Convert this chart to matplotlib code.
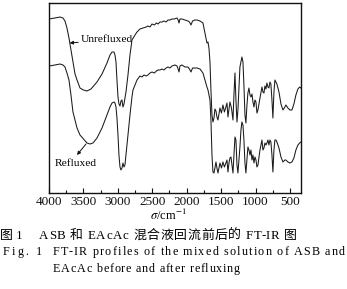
import numpy as np
import matplotlib
matplotlib.use('Agg')
import matplotlib.pyplot as plt
from matplotlib.font_manager import FontProperties

plt.rcParams['font.family'] = ['Liberation Serif', 'Noto Sans CJK SC']
plt.rcParams['mathtext.fontset'] = 'stix'

# 波数 / cm^-1 与透过率（任意单位，按图读数）
wn_unref = [4000, 3913, 3840, 3797, 3768, 3739, 3710, 3681, 3652, 3622, 3593, 3550, 3500, 3448,
            3390, 3303, 3230, 3158, 3114, 3085, 3056, 3042, 3027, 3013, 2998, 2984, 2969, 2955,
            2940, 2926, 2911, 2882, 2853, 2824, 2795, 2751, 2722, 2679, 2635, 2590, 2563, 2533,
            2504, 2470, 2440, 2417, 2388, 2359, 2330, 2300, 2272, 2243, 2214, 2180, 2141, 2125,
            2112, 2098, 2069, 2025, 1982, 1960, 1938, 1915, 1880, 1851, 1807, 1764, 1735, 1706,
            1691, 1677, 1662, 1648, 1633, 1619, 1604, 1590, 1575, 1561, 1546, 1517, 1495, 1474,
            1452, 1415, 1401, 1372, 1350, 1328, 1314, 1299, 1285, 1270, 1256, 1227, 1198, 1183,
            1169, 1154, 1140, 1125, 1111, 1096, 1081, 1067, 1052, 1038, 1023, 1009, 994, 980,
            965, 951, 936, 907, 893, 878, 864, 849, 835, 820, 806, 791, 777, 762, 748, 733, 719,
            704, 690, 660, 631, 602, 574, 559, 530, 501, 472, 443, 414, 385, 360, 341]
t_unref = [174, 175, 176, 175, 172, 165, 155, 143, 131, 119, 113, 105, 103, 102,
           104, 111, 119, 130, 138, 141, 141, 138, 131, 113, 96, 89, 87, 92,
           93, 86, 89, 101, 118, 138, 153, 158, 161, 164, 165, 166, 167, 166,
           169, 168, 170, 169, 171, 171, 172, 171, 173, 173, 174, 174, 175, 173,
           170, 174, 174, 173, 172, 171, 168, 172, 173, 173, 172, 170, 160, 150,
           151, 145, 131, 103, 78, 71, 75, 84, 82, 76, 73, 85, 80, 88,
           81, 90, 76, 91, 85, 73, 98, 120, 93, 71, 83, 126, 136, 131,
           108, 78, 70, 88, 100, 105, 98, 96, 99, 91, 86, 93, 91, 80,
           83, 89, 95, 106, 101, 100, 107, 104, 110, 106, 105, 111, 109, 93, 75, 101, 113,
           111, 109, 101, 89, 83, 86, 88, 85, 83, 83, 89, 98, 104, 106, 105]

wn_ref = [4000, 3913, 3840, 3797, 3768, 3739, 3710, 3681, 3652, 3622, 3593, 3550, 3500, 3448,
          3405, 3361, 3303, 3230, 3158, 3114, 3085, 3056, 3042, 3027, 3013, 2998, 2984, 2969,
          2955, 2940, 2926, 2911, 2897, 2882, 2867, 2853, 2824, 2795, 2780, 2751, 2722, 2679,
          2650, 2620, 2590, 2563, 2533, 2504, 2470, 2440, 2417, 2388, 2359, 2330, 2300, 2272,
          2243, 2214, 2170, 2141, 2125, 2112, 2098, 2069, 2025, 1982, 1960, 1938, 1915, 1880,
          1851, 1807, 1764, 1735, 1706, 1691, 1677, 1662, 1648, 1633, 1619, 1604, 1590, 1575,
          1561, 1546, 1532, 1517, 1495, 1474, 1452, 1415, 1401, 1386, 1372, 1357, 1343, 1328,
          1314, 1299, 1285, 1270, 1256, 1241, 1227, 1212, 1198, 1183, 1169, 1154, 1140, 1125,
          1111, 1096, 1081, 1067, 1052, 1038, 1023, 1009, 994, 980, 965, 951, 936, 907, 893,
          878, 864, 849, 835, 820, 806, 791, 777, 762, 748, 733, 719, 704, 690, 660, 631, 602,
          574, 559, 530, 501, 472, 443, 414, 385, 360, 341]
t_ref = [127, 128, 129, 128, 126, 120, 113, 98, 81, 73, 65, 58, 54, 50,
         49, 50, 55, 65, 78, 86, 90, 91, 90, 86, 75, 58, 38, 26,
         23, 25, 30, 26, 28, 38, 48, 58, 78, 96, 103, 108, 113, 117,
         116, 118, 117, 118, 120, 121, 120, 122, 123, 123, 124, 123, 125, 126,
         125, 127, 128, 127, 124, 121, 127, 128, 126, 126, 124, 121, 125, 125,
         125, 124, 120, 113, 106, 103, 98, 93, 73, 38, 21, 20, 25, 31,
         25, 20, 25, 30, 25, 31, 26, 33, 21, 30, 35, 36, 28, 20,
         38, 56, 53, 28, 20, 33, 46, 63, 71, 68, 53, 30, 20, 33,
         46, 43, 38, 43, 33, 38, 30, 36, 33, 26, 28, 35, 43, 53, 43,
         45, 50, 48, 50, 53, 48, 53, 51, 38, 21, 43, 53, 53, 51, 45, 36, 31,
         33, 33, 31, 30, 31, 35, 43, 48, 50, 51]

xticks = [4000, 3500, 3000, 2500, 2000, 1500, 1000, 500]
caption_cn = ['图 1', 'ASB 和 EAcAc 混合液回流前后的 FT-IR 图']
caption_en = ['Fig. 1', 'FT-IR profiles of the mixed solution of ASB and',
              'EAcAc before and after refluxing']

W, H = 347, 289
fig = plt.figure(figsize=(W / 100, H / 100), dpi=100)
ax = fig.add_axes([49 / W, 1 - 193 / H, 252 / W, 190 / H])
ax.plot(wn_unref, t_unref, color='#1a1a1a', lw=0.75)
ax.plot(wn_ref, t_ref, color='#1a1a1a', lw=0.75)
ax.set_xlim(4000, 340)
ax.set_ylim(0, 190)
ax.set_xticks(xticks)
ax.set_xticks(np.arange(3750, 340, -500), minor=True)
ax.set_yticks([])
ax.tick_params(axis='x', which='both', direction='in', top=False, pad=2.5,
               labelsize=9.5, colors='#111')
ax.tick_params(axis='x', which='major', length=3.5, width=0.8)
ax.tick_params(axis='x', which='minor', length=2, width=0.8)
for s in ax.spines.values():
    s.set_linewidth(1.0)
    s.set_color('#111')

ax.annotate('Unrefluxed', xy=(3700, 150), xytext=(3535, 153), fontsize=8.2,
            va='center', ha='left',
            arrowprops=dict(arrowstyle='-|>', lw=0.7, color='#111',
                            mutation_scale=5, shrinkA=0, shrinkB=0))
ax.text(3913, 30, 'Refluxed', fontsize=8.2, va='center', ha='left')
ax.annotate('', xy=(3593, 38), xytext=(3463, 49),
            arrowprops=dict(arrowstyle='-|>', lw=0.7, color='#111',
                            mutation_scale=5, shrinkA=0, shrinkB=0))

fig.text(168 / W, 1 - 215 / H, r'$\sigma$/cm$^{-1}$', fontsize=9, ha='center', va='center')

renderer = fig.canvas.get_renderer()


def spaced(s, x0, x1, ybase, fs=8.7):
    prop = FontProperties(family=['Liberation Serif', 'Noto Sans CJK SC'], size=fs)
    ref_w = renderer.get_text_width_height_descent('aa', prop, ismath=False)[0]
    widths = [renderer.get_text_width_height_descent('a' + c + 'a', prop, ismath=False)[0] - ref_w
              for c in s]
    extra = (x1 - x0 - sum(widths)) / max(len(s) - 1, 1)
    x = x0
    for c, w in zip(s, widths):
        fig.text(x / W, 1 - ybase / H, c, fontproperties=prop, ha='left', va='baseline')
        x += w + extra


fig.text(0.5 / W, 1 - 239 / H, caption_cn[0], fontsize=9.3, ha='left', va='baseline')
spaced(caption_cn[1], 39, 297, 239, fs=9.3)
spaced(caption_en[0], 3, 42, 255)
spaced(caption_en[1], 53, 345, 255)
spaced(caption_en[2], 53, 240, 272)

fig.savefig('out.png', dpi=100)
